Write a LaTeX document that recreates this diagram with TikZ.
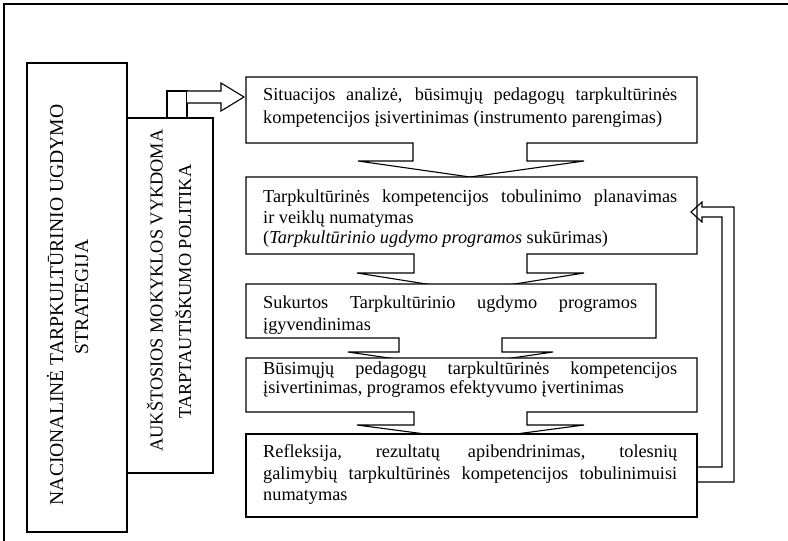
\documentclass[tikz,border=0pt]{standalone}
\usepackage{fontspec}
\setmainfont{Liberation Serif}
\newcommand{\boxfont}{\fontsize{18.3}{21.5}\selectfont}
\newcommand{\widefont}{\fontsize{19.6}{23}\selectfont}
\begin{document}
\begin{tikzpicture}[x=1pt,y=-1pt,
  frameline/.style={draw=black,line width=2pt},
  blk/.style={draw=black,fill=white,line width=1.1pt,line join=miter},
  outl/.style={draw=black,line width=1.1pt,line join=miter},
  txt/.style={anchor=mid west,inner sep=0pt,font=\boxfont},
  vtxt/.style={anchor=base,inner sep=0pt,rotate=90,font=\boxfont}]
\useasboundingbox (0,0) rectangle (788,541);

% outer frame (top and left edges only)
\draw[frameline] (4,541) -- (4,4) -- (788,4);

% strategy columns on the left
\draw[blk] (27,63) rectangle (127,532);
\draw[blk] (127,118) rectangle (213,473);
\node[vtxt,font=\widefont] (nac1) at (63,305) {NACIONALINĖ TARPKULTŪRINIO UGDYMO};
\node[vtxt,font=\widefont] (nac2) at (88,297) {STRATEGIJA};
\node[vtxt] (auk1) at (162.7,290.5) {AUKŠTOSIOS MOKYKLOS VYKDOMA};
\node[vtxt] (auk2) at (191,291.5) {TARPTAUTIŠKUMO POLITIKA};

% bent block arrow from the policy column to the first step
\draw[blk] (167,91) rectangle (187,118);
\draw[blk] (187,91) -- (221,91) -- (221,83) -- (244,97) -- (221,111) -- (221,103) -- (187,103);

% step boxes with down-arrow callouts
\draw[blk] (246,77) -- (697,77) -- (697,143) -- (527,143) -- (527,161) -- (584,161)
  -- (470,177) -- (358,161) -- (413,161) -- (413,143) -- (246,143) -- cycle;
\draw[blk] (246,177) -- (697,177) -- (697,254) -- (527,254) -- (527,273) -- (584,273)
  -- (470.5,291) -- (357,273) -- (414,273) -- (414,254) -- (246,254) -- cycle;
\draw[blk] (246,284) -- (656,284) -- (656,338) -- (502,338) -- (502,352) -- (553,352)
  -- (450.5,367) -- (348,352) -- (399,352) -- (399,338) -- (246,338) -- cycle;
\draw[blk] (246,358) -- (697,358) -- (697,412) -- (527,412) -- (527,425) -- (584,425)
  -- (470.5,440) -- (357,425) -- (414,425) -- (414,412) -- (246,412) -- cycle;
\draw[blk] (246,434) rectangle (697,517);

% feedback arrow from the last step back to planning
\draw[outl] (697,467) -- (722,467) -- (722,217) -- (702,217) -- (702,222) -- (691,212)
  -- (702,202) -- (702,207) -- (734,207) -- (734,482) -- (697,482);

% step texts
\node[txt] (a1) at (263,98.3) {\makebox[414pt][s]{Situacijos analizė, būsimųjų pedagogų tarpkultūrinės}};
\node[txt] (a2) at (263,121.7) {kompetencijos įsivertinimas (instrumento parengimas)};

\node[txt] (b1) at (263,200) {\makebox[414pt][s]{Tarpkultūrinės kompetencijos tobulinimo planavimas}};
\node[txt] (b2) at (263,221.7) {ir veiklų numatymas};
\begin{scope}
  \clip (246,177) rectangle (697,247.5);
  \node[txt] (b3) at (263,241.7) {(\textit{Tarpkultūrinio ugdymo programos} sukūrimas)};
\end{scope}

\node[txt] (c1) at (263,306.7) {\makebox[374pt][s]{Sukurtos Tarpkultūrinio ugdymo programos}};
\node[txt] (c2) at (263,328.3) {įgyvendinimas};

\node[txt] (d1) at (263,372.7) {\makebox[414pt][s]{Būsimųjų pedagogų tarpkultūrinės kompetencijos}};
\begin{scope}
  \clip (246,358) rectangle (697,397.5);
  \node[txt] (d2) at (263,391.7) {įsivertinimas, programos efektyvumo įvertinimas};
\end{scope}

\node[txt] (e1) at (263,455) {\makebox[414pt][s]{Refleksija, rezultatų apibendrinimas, tolesnių}};
\node[txt] (e2) at (263,476.7) {\makebox[414pt][s]{galimybių tarpkultūrinės kompetencijos tobulinimuisi}};
\node[txt] (e3) at (263,498.3) {numatymas};
\end{tikzpicture}
\end{document}
